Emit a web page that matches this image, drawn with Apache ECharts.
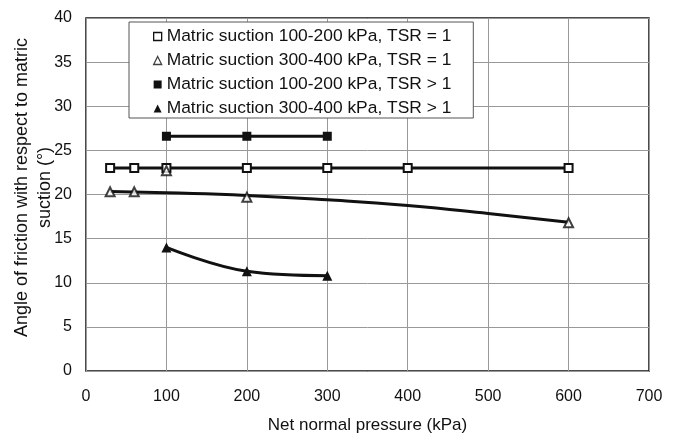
<!DOCTYPE html>
<html>
<head>
<meta charset="utf-8">
<script src="https://cdn.jsdelivr.net/npm/echarts@6/dist/echarts.min.js"></script>
<style>
html,body{margin:0;padding:0;background:#fff;}
#c{width:678px;height:434px;}
</style>
</head>
<body>
<div id="c"></div>
<script>
// Data
const sqOpenX = [30, 60, 100, 200, 300, 400, 600];
const sqOpenY = [23, 23, 23, 23, 23, 23, 23];
const triOpenX = [30, 60, 100, 200, 600];
const triOpenY = [20.3, 20.3, 22.7, 19.7, 16.8];
const triTrendX = [30, 100, 200, 300, 400, 500, 600];
const triTrendY = [20.35, 20.2, 19.9, 19.4, 18.75, 17.85, 16.85];
const sqFillX = [100, 200, 300];
const sqFillY = [26.6, 26.6, 26.6];
const triFillX = [100, 200, 300];
const triFillY = [14.0, 11.3, 10.8];
const xTicks = [0, 100, 200, 300, 400, 500, 600, 700];
const yTicks = [0, 5, 10, 15, 20, 25, 30, 35, 40];
const names = [
  'Matric suction 100-200 kPa, TSR = 1',
  'Matric suction 300-400 kPa, TSR = 1',
  'Matric suction 100-200 kPa, TSR > 1',
  'Matric suction 300-400 kPa, TSR > 1'
];

const zip = (xs, ys) => xs.map((x, i) => [x, ys[i]]);
const font = 'Liberation Sans, Arial, sans-serif';
const ink = '#111';

const chart = echarts.init(document.getElementById('c'), null, {renderer: 'canvas'});
chart.setOption({
  animation: false,
  backgroundColor: '#fff',
  grid: {left: 86, right: 29, top: 18, bottom: 63, show: true, borderColor: ink, borderWidth: 1.5,
         containLabel: false, outerBoundsMode: 'none'},
  xAxis: {
    type: 'value', min: xTicks[0], max: xTicks[xTicks.length - 1], interval: 100,
    name: 'Net normal pressure (kPa)', nameLocation: 'middle', nameGap: 46, nameMoveOverlap: false,
    nameTextStyle: {fontFamily: font, fontSize: 17, color: ink},
    axisLine: {show: false}, axisTick: {show: false},
    axisLabel: {fontFamily: font, fontSize: 16, color: ink, margin: 18},
    splitLine: {show: true, lineStyle: {color: '#999', width: 1}}
  },
  yAxis: {
    type: 'value', min: yTicks[0], max: yTicks[yTicks.length - 1], interval: 5,
    name: 'Angle of friction with respect to matric\nsuction (°)', nameLocation: 'middle', nameGap: 29,
    nameMoveOverlap: false,
    nameTextStyle: {fontFamily: font, fontSize: 18, color: ink, lineHeight: 23, padding: [0, 0, 0, 14]},
    axisLine: {show: false}, axisTick: {show: false},
    axisLabel: {fontFamily: font, fontSize: 16, color: ink, margin: 14},
    splitLine: {show: true, lineStyle: {color: '#999', width: 1}}
  },
  legend: {
    orient: 'vertical', left: 129, top: 22,
    data: [
      {name: names[0], icon: 'rect', itemStyle: {color: '#fff', borderColor: ink, borderWidth: 1.3}},
      {name: names[1], icon: 'triangle', itemStyle: {color: '#fff', borderColor: ink, borderWidth: 1.3}},
      {name: names[2], icon: 'rect', itemStyle: {color: ink, borderWidth: 0}},
      {name: names[3], icon: 'triangle', itemStyle: {color: ink, borderWidth: 0}}
    ],
    backgroundColor: '#fff', borderColor: '#555', borderWidth: 1,
    padding: [6, 22, 1, 24],
    itemGap: 7, itemWidth: 8, itemHeight: 8,
    textStyle: {fontFamily: font, fontSize: 17.4, color: ink}
  },
  series: [
    {
      name: names[0], type: 'line', data: zip(sqOpenX, sqOpenY),
      symbol: 'emptyRect', symbolSize: 8, z: 3,
      itemStyle: {color: ink, borderWidth: 1.5},
      lineStyle: {color: ink, width: 3}
    },
    {
      name: 'trend', type: 'line', data: zip(triTrendX, triTrendY),
      smooth: true, showSymbol: false, symbol: 'none', z: 2,
      lineStyle: {color: ink, width: 3}, itemStyle: {color: ink}
    },
    {
      name: names[1], type: 'scatter', data: zip(triOpenX, triOpenY),
      symbol: 'emptyTriangle', symbolSize: 9, z: 4,
      itemStyle: {color: ink, borderWidth: 1.5}
    },
    {
      name: names[2], type: 'line', data: zip(sqFillX, sqFillY),
      symbol: 'rect', symbolSize: 9, z: 3,
      itemStyle: {color: ink},
      lineStyle: {color: ink, width: 3}
    },
    {
      name: names[3], type: 'line', data: zip(triFillX, triFillY),
      smooth: 0.4, symbol: 'triangle', symbolSize: 10, z: 3,
      itemStyle: {color: ink},
      lineStyle: {color: ink, width: 3}
    }
  ]
});
</script>
</body>
</html>
